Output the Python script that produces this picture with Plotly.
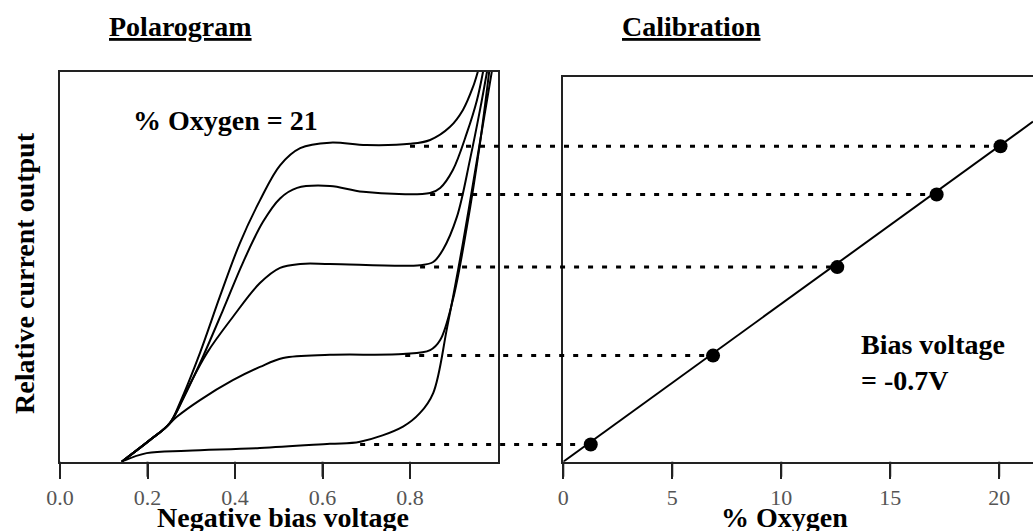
import plotly.graph_objects as go

# ---------------- data ----------------
# Polarogram curves: negative bias voltage (V) vs relative current output (0..1)
c1_v = [0.141, 0.206, 0.251, 0.274, 0.320, 0.366, 0.411, 0.457, 0.503, 0.549, 0.617, 0.700, 0.800, 0.846, 0.891, 0.921, 0.944, 0.955]
c1_i = [0.000, 0.056, 0.099, 0.151, 0.279, 0.425, 0.560, 0.670, 0.760, 0.804, 0.818, 0.812, 0.815, 0.825, 0.858, 0.902, 0.961, 1.000]

c2_v = [0.141, 0.206, 0.251, 0.281, 0.327, 0.373, 0.418, 0.464, 0.503, 0.542, 0.617, 0.693, 0.846, 0.869, 0.898, 0.930, 0.953, 0.967]
c2_i = [0.000, 0.056, 0.099, 0.160, 0.270, 0.390, 0.510, 0.615, 0.675, 0.702, 0.707, 0.692, 0.689, 0.702, 0.748, 0.843, 0.927, 1.000]

c3_v = [0.141, 0.206, 0.251, 0.290, 0.336, 0.395, 0.457, 0.503, 0.549, 0.617, 0.823, 0.853, 0.875, 0.907, 0.937, 0.960, 0.976]
c3_i = [0.000, 0.056, 0.099, 0.184, 0.279, 0.371, 0.458, 0.497, 0.507, 0.507, 0.504, 0.512, 0.543, 0.627, 0.774, 0.902, 1.000]

c4_v = [0.141, 0.206, 0.240, 0.267, 0.320, 0.395, 0.457, 0.510, 0.617, 0.784, 0.846, 0.869, 0.898, 0.930, 0.960, 0.981]
c4_i = [0.000, 0.056, 0.086, 0.115, 0.158, 0.209, 0.243, 0.266, 0.274, 0.276, 0.286, 0.312, 0.415, 0.602, 0.817, 1.000]

c5_v = [0.141, 0.198, 0.290, 0.457, 0.617, 0.686, 0.784, 0.823, 0.853, 0.885, 0.921, 0.953, 0.987]
c5_i = [0.000, 0.022, 0.028, 0.035, 0.046, 0.051, 0.090, 0.125, 0.176, 0.345, 0.561, 0.773, 1.000]

# Plateau levels read at the calibration bias voltage, and where the dotted guide starts
plateau_level = [0.809, 0.685, 0.499, 0.272, 0.044]
guide_start_v = [0.800, 0.846, 0.823, 0.789, 0.686]

# Calibration points (% oxygen vs relative current)
cal_o2 = [20.06, 17.13, 12.57, 6.87, 1.26]
cal_i = plateau_level

# Calibration line
cal_line_o2 = [0.0, 21.55]
cal_line_i = [0.0, 0.872]

volt_ticks = [0.0, 0.2, 0.4, 0.6, 0.8]
volt_ticktext = ["0.0", "0.2", "0.4", "0.6", "0.8"]
o2_ticks = [0, 5, 10, 15, 20]

# ---------------- layout geometry ----------------
W, H = 1033, 531
XL = [60 / W, 497.5 / W]
YL = [1 - 461.7 / H, 1 - 71.7 / H]
XR = [563.3 / W, 1.0]
YR = [1 - 461.7 / H, 1 - 76.7 / H]
XL_RANGE = [0, 1.0]
YL_RANGE = [0, 1.0]
XR_RANGE = [0, 21.55]
YR_RANGE = [0, (461.7 - 76.7) / 390.0]
TICK_LEN = 15

FONT = "Liberation Serif"
LINE_COL = "#222222"


def px_left(v):
    return XL[0] + (v - XL_RANGE[0]) / (XL_RANGE[1] - XL_RANGE[0]) * (XL[1] - XL[0])


def px_right(o):
    return XR[0] + (o - XR_RANGE[0]) / (XR_RANGE[1] - XR_RANGE[0]) * (XR[1] - XR[0])


def py_left(y):
    return YL[0] + (y - YL_RANGE[0]) / (YL_RANGE[1] - YL_RANGE[0]) * (YL[1] - YL[0])


fig = go.Figure()

for vv, ii in [(c1_v, c1_i), (c2_v, c2_i), (c3_v, c3_i), (c4_v, c4_i), (c5_v, c5_i)]:
    fig.add_trace(go.Scatter(
        x=vv, y=ii, mode="lines", xaxis="x", yaxis="y",
        line=dict(color="black", width=2, shape="spline", smoothing=1.0),
        hoverinfo="skip", showlegend=False))

fig.add_trace(go.Scatter(
    x=cal_line_o2, y=cal_line_i, mode="lines", xaxis="x2", yaxis="y2",
    line=dict(color="black", width=2), hoverinfo="skip", showlegend=False))

fig.add_trace(go.Scatter(
    x=cal_o2, y=cal_i, mode="markers", xaxis="x2", yaxis="y2",
    marker=dict(color="black", size=14), hoverinfo="skip", showlegend=False,
    cliponaxis=False))

shapes = []
# dotted guides from the polarogram plateaus to the calibration points
for v0, lvl, o2 in zip(guide_start_v, plateau_level, cal_o2):
    shapes.append(dict(
        type="line", xref="paper", yref="paper",
        x0=px_left(v0), x1=px_right(o2), y0=py_left(lvl), y1=py_left(lvl),
        line=dict(color="black", width=3, dash="5px,9px"), layer="above"))

# outward tick marks under both x axes
for t in volt_ticks:
    shapes.append(dict(type="line", xref="paper", yref="paper",
                       x0=px_left(t), x1=px_left(t), y0=YL[0], y1=YL[0] - TICK_LEN / H,
                       line=dict(color=LINE_COL, width=2), layer="above"))
for t in o2_ticks:
    shapes.append(dict(type="line", xref="paper", yref="paper",
                       x0=px_right(t), x1=px_right(t), y0=YR[0], y1=YR[0] - TICK_LEN / H,
                       line=dict(color=LINE_COL, width=2), layer="above"))

fig.update_layout(
    width=W, height=H, autosize=False,
    margin=dict(l=0, r=0, t=0, b=0, pad=0, autoexpand=False),
    paper_bgcolor="white", plot_bgcolor="white",
    showlegend=False,
    xaxis=dict(domain=XL, range=XL_RANGE, anchor="y", mirror=True,
               showgrid=False, zeroline=False, showline=True,
               linecolor=LINE_COL, linewidth=2, automargin=False,
               tickmode="array", tickvals=volt_ticks, ticktext=volt_ticktext,
               ticks="outside", ticklen=TICK_LEN, tickwidth=2, tickcolor=LINE_COL,
               tickfont=dict(family=FONT, size=22, color="#555555")),
    yaxis=dict(domain=YL, range=YL_RANGE, anchor="x", mirror=True,
               showgrid=False, zeroline=False, showline=True,
               linecolor=LINE_COL, linewidth=2, automargin=False,
               showticklabels=False, ticks=""),
    xaxis2=dict(domain=XR, range=XR_RANGE, anchor="y2", mirror=True,
                showgrid=False, zeroline=False, showline=True,
                linecolor=LINE_COL, linewidth=2, automargin=False,
                tickmode="array", tickvals=o2_ticks,
                ticks="outside", ticklen=TICK_LEN, tickwidth=2, tickcolor=LINE_COL,
                tickfont=dict(family=FONT, size=22, color="#555555")),
    yaxis2=dict(domain=YR, range=YR_RANGE, anchor="x2", mirror=False,
                showgrid=False, zeroline=False, showline=True,
                linecolor=LINE_COL, linewidth=2, automargin=False,
                showticklabels=False, ticks=""),
    shapes=shapes,
)

def ann(text, x, y, size=28, xanchor="center", yanchor="middle", angle=0, align="center"):
    fig.add_annotation(text=text, xref="paper", yref="paper", x=x / W, y=1 - y / H,
                       xanchor=xanchor, yanchor=yanchor, showarrow=False,
                       textangle=angle, align=align,
                       font=dict(family=FONT, size=size, color="black"))

ann("<u><b>Polarogram</b></u>", 180, 27)
ann("<u><b>Calibration</b></u>", 691, 27)
ann("<b>% Oxygen = 21</b>", 225, 120)
ann("<b>Bias voltage<br>= -0.7V</b>", 859, 362, xanchor="left", align="left")
ann("<b>Negative bias voltage</b>", 283, 517)
ann("<b>% Oxygen</b>", 784, 517)
ann("<b>Relative current output</b>", 24, 273, angle=-90)

fig.write_html("out.html")
